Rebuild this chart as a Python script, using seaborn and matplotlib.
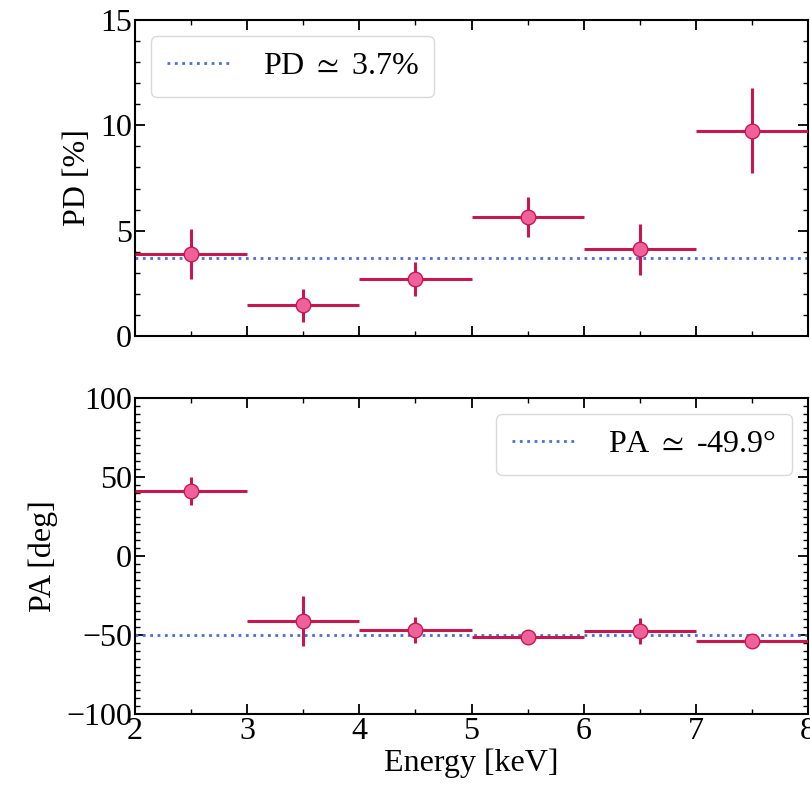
import numpy as np
import pandas as pd
import matplotlib
matplotlib.use("Agg")
import matplotlib.pyplot as plt
import seaborn as sns
from matplotlib.ticker import MultipleLocator

# Data
energy = [2.5, 3.5, 4.5, 5.5, 6.5, 7.5]
energy_halfwidth = [0.5, 0.5, 0.5, 0.5, 0.5, 0.5]
pd_vals = [3.9, 1.45, 2.7, 5.65, 4.12, 9.75]
pd_err = [1.2, 0.8, 0.8, 0.95, 1.2, 2.0]
pa_vals = [41.0, -41.0, -46.8, -51.0, -47.5, -53.5]
pa_err = [9.0, 16.0, 8.5, 3.0, 8.0, 4.0]
pd_avg = 3.7
pa_avg = -49.9

df = pd.DataFrame({"E": energy, "PD": pd_vals, "PA": pa_vals})

sns.set_theme(style="ticks")
plt.rcParams["font.family"] = ["Liberation Serif", "DejaVu Serif"]
plt.rcParams["mathtext.fontset"] = "stix"
plt.rcParams["text.color"] = "black"
plt.rcParams["axes.labelcolor"] = "black"
plt.rcParams["xtick.color"] = "black"
plt.rcParams["ytick.color"] = "black"

FS = 23

fig = plt.figure(figsize=(8.1, 7.91), dpi=100)
ax1 = fig.add_axes([0.1667, 0.5752, 0.8308, 0.3995])
ax2 = fig.add_axes([0.1667, 0.0973, 0.8308, 0.3995])

edge = "#c8174f"
fill = "#f0609a"
avg_col = "#4a6fd6"

for ax, col, err, avg, lab, ylab, loc in [
    (ax1, "PD", pd_err, pd_avg, r"PD $\simeq$ 3.7%", "PD [%]", "upper left"),
    (ax2, "PA", pa_err, pa_avg, r"PA $\simeq$ -49.9°", "PA [deg]", "upper right"),
]:
    ax.axhline(avg, color=avg_col, ls=":", lw=2.0, label=lab, zorder=2)
    ax.errorbar(df["E"], df[col], xerr=energy_halfwidth, yerr=err, fmt="none",
                ecolor=edge, elinewidth=2.2, capsize=0, zorder=3)
    sns.scatterplot(data=df, x="E", y=col, ax=ax, s=110, color=fill,
                    edgecolor=edge, linewidth=1.0, zorder=4, legend=False)
    ax.set_xlim(2, 8)
    ax.set_ylabel(ylab, fontsize=FS, labelpad=6)
    leg = ax.legend(loc=loc, fontsize=FS, frameon=True, fancybox=True,
                    handlelength=2.0, borderpad=0.5, handletextpad=1.0,
                    borderaxespad=0.5)
    leg.get_frame().set_edgecolor("#d0d0d0")
    leg.get_frame().set_linewidth(1.0)
    ax.xaxis.set_major_locator(MultipleLocator(1))
    ax.xaxis.set_minor_locator(MultipleLocator(0.5))
    ax.tick_params(which="both", direction="in", top=True, right=True,
                   labelsize=FS)
    ax.tick_params(which="major", length=7, width=1.3, pad=2)
    ax.tick_params(which="minor", length=3.5, width=1.0)
    for s in ax.spines.values():
        s.set_linewidth(1.5)
        s.set_color("black")

ax1.set_ylim(0, 15)
ax1.yaxis.set_major_locator(MultipleLocator(5))
ax1.yaxis.set_minor_locator(MultipleLocator(1))
ax1.set_xlabel("")
ax1.tick_params(labelbottom=False)

ax2.set_ylim(-100, 100)
ax2.yaxis.set_major_locator(MultipleLocator(50))
ax2.yaxis.set_minor_locator(MultipleLocator(5))
ax2.set_xlabel("Energy [keV]", fontsize=FS, labelpad=2)

fig.savefig("out.png", dpi=100)
